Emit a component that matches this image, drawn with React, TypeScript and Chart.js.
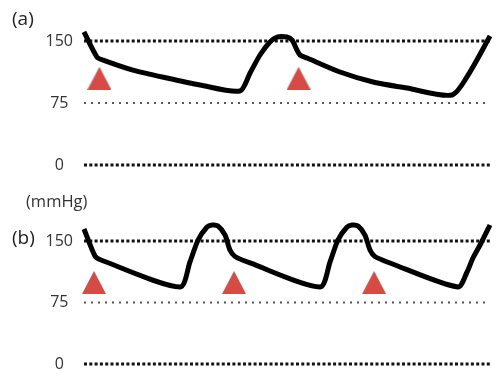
import React, { useEffect, useRef } from 'react';
import { Chart, registerables } from 'chart.js';

Chart.register(...registerables);

// Time (s) and pressure (mmHg) samples for panel (a)
const timeA = [0, 0.064, 0.094, 0.241, 0.409, 0.571, 0.768, 0.818, 0.867, 0.916, 0.951, 1.0, 1.025, 1.049, 1.064, 1.099, 1.261, 1.424, 1.591, 1.813, 1.901, 2.0];
const pressureA = [161, 130.6, 127, 114.9, 105.2, 96.8, 89.5, 111.3, 133.1, 148.8, 154.8, 154.8, 151.2, 139.1, 133.1, 129.4, 112.5, 100.4, 93.1, 84.7, 112.5, 156];
const markTimeA = [0.076, 1.057];
const markPressureA = [105, 105];

// Time (s) and pressure (mmHg) samples for panel (b)
const timeB = [0, 0.054, 0.084, 0.473, 0.522, 0.562, 0.606, 0.631, 0.66, 0.695, 0.719, 0.744, 0.818, 1.163, 1.212, 1.251, 1.296, 1.32, 1.35, 1.384, 1.409, 1.433, 1.507, 1.842, 1.887, 1.916, 1.951, 2.0];
const pressureB = [164.6, 131.7, 126.8, 93.9, 124.4, 151.2, 167.1, 169.5, 168.3, 157.3, 139, 131.1, 123.2, 93.9, 124.4, 151.2, 167.1, 169.5, 168.3, 157.3, 139, 131.1, 123.2, 93.9, 112.2, 129.3, 145.1, 169.5];
const markTimeB = [0.049, 0.739, 1.429];
const markPressureB = [99.4, 99.4, 99.4];

const yTicks = [0, 75, 150];
const tStart = 0;
const tEnd = 2.0;

function makeTriangle(): HTMLCanvasElement {
  const c = document.createElement('canvas');
  c.width = 24;
  c.height = 23;
  const g = c.getContext('2d')!;
  g.fillStyle = '#d64b45';
  g.beginPath();
  g.moveTo(12, 0);
  g.lineTo(24, 23);
  g.lineTo(0, 23);
  g.closePath();
  g.fill();
  return c;
}

type PanelProps = {
  time: number[];
  pressure: number[];
  markT: number[];
  markP: number[];
  yMax: number;
  padTop: number;
  padBottom: number;
  height: number;
  top: number;
};

function Panel({ time, pressure, markT, markP, yMax, padTop, padBottom, height, top }: PanelProps) {
  const ref = useRef<HTMLCanvasElement>(null);
  useEffect(() => {
    if (!ref.current) return;
    const tri = makeTriangle();
    const refLine = (v: number, width: number, dash: number[], color: string) => ({
      type: 'line' as const,
      data: [{ x: tStart, y: v }, { x: tEnd, y: v }],
      borderColor: color,
      borderWidth: width,
      borderDash: dash,
      pointRadius: 0,
      clip: false as any,
      order: 2,
    });
    const chart = new Chart(ref.current, {
      type: 'line',
      data: {
        datasets: [
          {
            data: time.map((t, i) => ({ x: t, y: pressure[i] })),
            borderColor: '#000',
            borderWidth: 5,
            pointRadius: 0,
            tension: 0.25,
            borderJoinStyle: 'round',
            clip: false as any,
            order: 0,
          },
          {
            type: 'scatter',
            data: markT.map((t, i) => ({ x: t, y: markP[i] })),
            pointStyle: tri as any,
            pointRadius: 12,
            showLine: false,
            clip: false as any,
            order: 1,
          } as any,
          refLine(yTicks[2], 3, [3, 2.3], '#111'),
          refLine(yTicks[1], 2, [2, 5], '#555'),
          refLine(yTicks[0], 3, [3, 2.3], '#111'),
        ],
      },
      options: {
        animation: false,
        responsive: false,
        maintainAspectRatio: false,
        layout: { autoPadding: false, padding: { top: padTop, bottom: padBottom, right: 6, left: 0 } },
        plugins: { legend: { display: false }, tooltip: { enabled: false } },
        scales: {
          x: { type: 'linear', min: tStart, max: tEnd, display: false },
          y: {
            min: 0,
            max: yMax,
            afterBuildTicks: (s: any) => {
              s.ticks = yTicks.map((v) => ({ value: v }));
            },
            afterFit: (s: any) => {
              s.width = 84;
            },
            grid: { display: false },
            border: { display: false },
            ticks: {
              crossAlign: 'center',
              padding: 3,
              color: '#333',
              font: { family: 'Open Sans', size: 16 },
            },
          },
        },
      } as any,
    });
    return () => chart.destroy();
  }, []);
  return (
    <canvas
      ref={ref}
      width={496}
      height={height}
      style={{ position: 'absolute', left: 0, top, width: 496, height, display: 'block' }}
    />
  );
}

const labelStyle: React.CSSProperties = {
  position: 'absolute',
  fontFamily: 'Open Sans',
  color: '#222',
  lineHeight: 1,
  whiteSpace: 'nowrap',
};

export default function App() {
  return (
    <div style={{ position: 'absolute', left: 0, top: 0, width: 496, height: 377, background: '#fff', overflow: 'hidden' }}>
      <Panel time={timeA} pressure={pressureA} markT={markTimeA} markP={markPressureA} yMax={170} padTop={24.5} padBottom={15} height={180} top={0} />
      <Panel time={timeB} pressure={pressureB} markT={markTimeB} markP={markPressureB} yMax={180} padTop={26.4} padBottom={13} height={187} top={190} />
      <div style={{ ...labelStyle, left: 12, top: 9, fontSize: 19 }}>(a)</div>
      <div style={{ ...labelStyle, left: 26, top: 193, fontSize: 16.5, color: '#333' }}>(mmHg)</div>
      <div style={{ ...labelStyle, left: 12, top: 228, fontSize: 19 }}>(b)</div>
    </div>
  );
}
